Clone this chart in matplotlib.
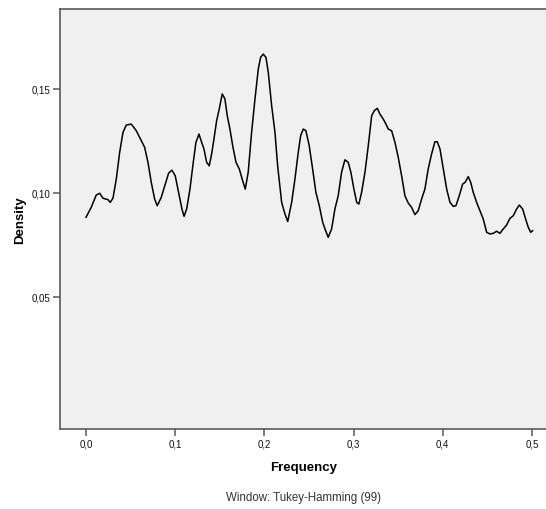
import matplotlib.pyplot as plt

plt.rcParams['font.family'] = ['Liberation Sans', 'DejaVu Sans']

# spectral density estimate
freq = [0.000, 0.0059, 0.0115, 0.0154, 0.0191, 0.0247, 0.0272, 0.0303, 0.034, 0.0378,
        0.0415, 0.0452, 0.0508, 0.0564, 0.062, 0.0658, 0.0695, 0.0732, 0.077, 0.0799,
        0.0844, 0.0889, 0.0927, 0.0964, 0.1001, 0.1039, 0.1076, 0.1100, 0.1129, 0.1166,
        0.1203, 0.1233, 0.1267, 0.1297, 0.1323, 0.1353, 0.1382, 0.1409, 0.1435, 0.1465,
        0.1494, 0.1528, 0.1558, 0.1584, 0.1614, 0.1645, 0.1682, 0.1719, 0.1757, 0.1786,
        0.1819, 0.1857, 0.1895, 0.1932, 0.1958, 0.1988, 0.2018, 0.2044, 0.2082, 0.2119,
        0.2149, 0.2194, 0.2231, 0.2262, 0.2306, 0.2343, 0.2380, 0.2407, 0.2436, 0.2466,
        0.2503, 0.2541, 0.2578, 0.2616, 0.2654, 0.2687, 0.2716, 0.2754, 0.2791, 0.2828,
        0.2866, 0.2903, 0.294, 0.297, 0.3004, 0.3035, 0.306, 0.309, 0.3128, 0.3165,
        0.3203, 0.3232, 0.3266, 0.3296, 0.3333, 0.3363, 0.3389, 0.3427, 0.3464, 0.3501,
        0.3539, 0.3576, 0.3613, 0.3651, 0.3688, 0.3725, 0.3763, 0.38, 0.3837, 0.3875,
        0.3912, 0.3938, 0.3969, 0.4006, 0.4044, 0.4081, 0.4118, 0.4148, 0.4185, 0.4223,
        0.4252, 0.4286, 0.4313, 0.4342, 0.438, 0.4417, 0.4454, 0.4492, 0.4529, 0.4566,
        0.4604, 0.4641, 0.4678, 0.4716, 0.4753, 0.4791, 0.4828, 0.4858, 0.4896, 0.4929,
        0.4959, 0.4986, 0.5008]
density = [0.0882, 0.0930, 0.0989, 0.0998, 0.0974, 0.0967, 0.0954, 0.0974, 0.1066, 0.1195,
           0.1291, 0.1326, 0.1331, 0.1299, 0.1251, 0.1219, 0.1147, 0.1051, 0.0970, 0.0938,
           0.0978, 0.1042, 0.1095, 0.1109, 0.1082, 0.1002, 0.0922, 0.0887, 0.0922, 0.1018,
           0.1147, 0.1243, 0.1283, 0.1243, 0.1211, 0.1147, 0.1130, 0.1187, 0.1259, 0.1347,
           0.1403, 0.1476, 0.1452, 0.1371, 0.1307, 0.1227, 0.1147, 0.1115, 0.1058, 0.1018,
           0.1099, 0.1291, 0.1452, 0.1596, 0.1652, 0.1668, 0.1652, 0.1580, 0.1419, 0.1291,
           0.1130, 0.0954, 0.0898, 0.0862, 0.0954, 0.1066, 0.1195, 0.1275, 0.1307, 0.1299,
           0.1227, 0.1115, 0.1002, 0.0938, 0.0858, 0.0818, 0.0786, 0.0826, 0.0922, 0.0986,
           0.1099, 0.1159, 0.1147, 0.1099, 0.1018, 0.0954, 0.0946, 0.1002, 0.1099, 0.1227,
           0.1371, 0.1395, 0.1407, 0.1379, 0.1355, 0.1331, 0.1307, 0.1299, 0.1243, 0.1171,
           0.1082, 0.0986, 0.0951, 0.0930, 0.0895, 0.0914, 0.0970, 0.1018, 0.1115, 0.1187,
           0.1246, 0.1246, 0.1211, 0.1115, 0.1018, 0.0954, 0.0935, 0.0938, 0.0986, 0.1042,
           0.1051, 0.1078, 0.1051, 0.1002, 0.0954, 0.0914, 0.0874, 0.0810, 0.0802, 0.0805,
           0.0815, 0.0805, 0.0826, 0.0845, 0.0877, 0.0890, 0.0922, 0.0941, 0.0922, 0.0874,
           0.0834, 0.0810, 0.0818]

x_ticks = [0.0, 0.1, 0.2, 0.3, 0.4, 0.5]
x_labels = ["0,0", "0,1", "0,2", "0,3", "0,4", "0,5"]
y_ticks = [0.05, 0.10, 0.15]
y_labels = ["0,05", "0,10", "0,15"]


def main():
    fig = plt.figure(figsize=(5.46, 5.10), dpi=100)
    ax = fig.add_axes([60 / 546, 80 / 510, 488 / 546, 420 / 510])
    ax.set_facecolor("#f0f0f0")

    ax.plot(freq, density, color="black", linewidth=1.1)

    ax.set_xlim(-0.0291, 0.518)
    ax.set_ylim(-0.0137, 0.1885)

    ax.set_xticks(x_ticks, x_labels)
    ax.set_yticks(y_ticks, y_labels)

    # frame
    for side in ["left", "top", "bottom", "right"]:
        ax.spines[side].set_color("#5a5a5a")
        ax.spines[side].set_linewidth(1.2)
    ax.tick_params(axis="both", colors="#5a5a5a", labelcolor="#111111",
                   labelsize=7, length=5, width=1.1, pad=2)

    ax.set_xlabel("Frequency", fontsize=9.5, fontweight="bold", labelpad=9)
    ax.set_ylabel("Density", fontsize=9.5, fontweight="bold", labelpad=4)

    fig.text(303 / 546, 1 - 498 / 510, "Window: Tukey-Hamming (99)",
             fontsize=8.3, color="#333333", ha="center", va="center")

    fig.savefig("out.png", dpi=100, facecolor="white")


if __name__ == "__main__":
    main()
